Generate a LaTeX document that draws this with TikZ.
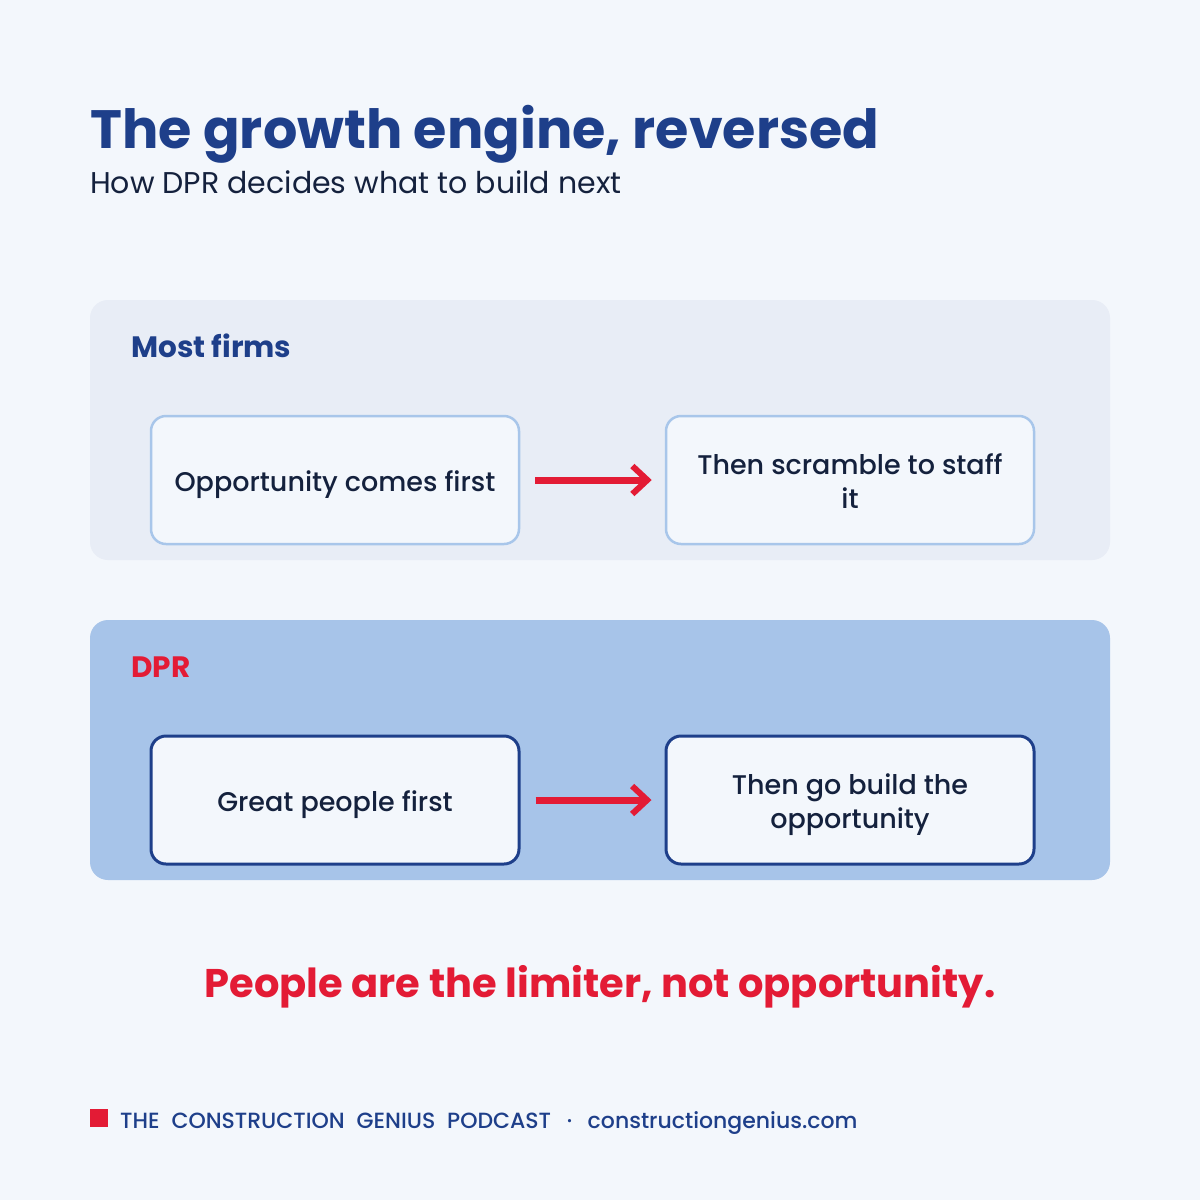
\documentclass[tikz,border=0pt]{standalone}
\usepackage{fontspec}
\setmainfont{Poppins}
\newfontfamily\pmedium{Poppins Medium}
\usetikzlibrary{arrows.meta}
\definecolor{bgc}{HTML}{F3F7FC}
\definecolor{titleblue}{HTML}{1E3F8A}
\definecolor{darktext}{HTML}{14213D}
\definecolor{panelone}{HTML}{E8EDF6}
\definecolor{lightborder}{HTML}{A8C6EA}
\definecolor{paneltwo}{HTML}{A7C4E9}
\definecolor{accentred}{HTML}{E31B35}
\tikzset{
  panel/.style={draw=none, rounded corners=18pt, minimum width=1020pt, minimum height=260pt, inner sep=0pt},
  stepbox/.style={rounded corners=15pt, minimum width=368pt, minimum height=128pt, fill=bgc, align=center, text=darktext, font=\pmedium\fontsize{27}{34.5}\selectfont, inner sep=0pt},
  oneline/.style={text height=23.4pt, text depth=0pt},
  twoline/.style={text height=57pt, text depth=0pt},
  lightbox/.style={stepbox, draw=lightborder, line width=2.5pt},
  darkbox/.style={stepbox, draw=titleblue, line width=3pt},
  flow/.style={draw=accentred, line width=7pt, -{Straight Barb[length=15pt,width=28pt,line width=6pt]}, shorten <=15pt, shorten >=13pt},
  heading/.style={anchor=base west, inner sep=0pt, font=\fontsize{29.5}{34}\selectfont\bfseries}
}
\begin{document}
\begin{tikzpicture}[x=1pt,y=-1pt]
\fill[bgc] (0,0) rectangle (1200,1200);
\useasboundingbox (0,0) rectangle (1200,1200);
\node[anchor=base west, inner sep=0pt, text=titleblue, font=\fontsize{54}{60}\selectfont\bfseries] (title) at (90,148) {The growth engine, reversed};
\node[anchor=base west, inner sep=0pt, text=darktext, font=\fontsize{30}{34}\selectfont] (subtitle) at (90,193) {How DPR decides what to build next};

\node[panel, fill=panelone] (p1) at (600,430) {};
\node[heading, text=titleblue] (h1) at (131,357) {Most firms};
\node[lightbox, oneline] (b1) at (335,480) {Opportunity comes first};
\node[lightbox, twoline] (b2) at (850,480) {Then scramble to staff\\it};
\draw[flow] (b1) -- (b2);

\node[panel, fill=paneltwo] (p2) at (600,750) {};
\node[heading, text=accentred] (h2) at (131,677) {DPR};
\node[darkbox, oneline] (b3) at (335,800) {Great people first};
\node[darkbox, twoline] (b4) at (850,800) {Then go build the\\opportunity};
\draw[flow] (b3) -- (b4);

\node[anchor=base, inner sep=0pt, text=accentred, font=\fontsize{40}{48}\selectfont\bfseries] (tagline) at (600,997) {People are the limiter, not opportunity.};

\node[fill=accentred, minimum width=18pt, minimum height=18pt, inner sep=0pt] (sq) at (99,1118) {};
\node[anchor=base west, inner sep=0pt, text=titleblue, font=\pmedium\fontsize{22}{26}\selectfont] (footer) at (120,1128) {THE\hspace{0.28em} CONSTRUCTION\hspace{0.28em} GENIUS\hspace{0.28em} PODCAST\hspace{0.45em} ·\hspace{0.45em} constructiongenius.com};
\end{tikzpicture}
\end{document}
